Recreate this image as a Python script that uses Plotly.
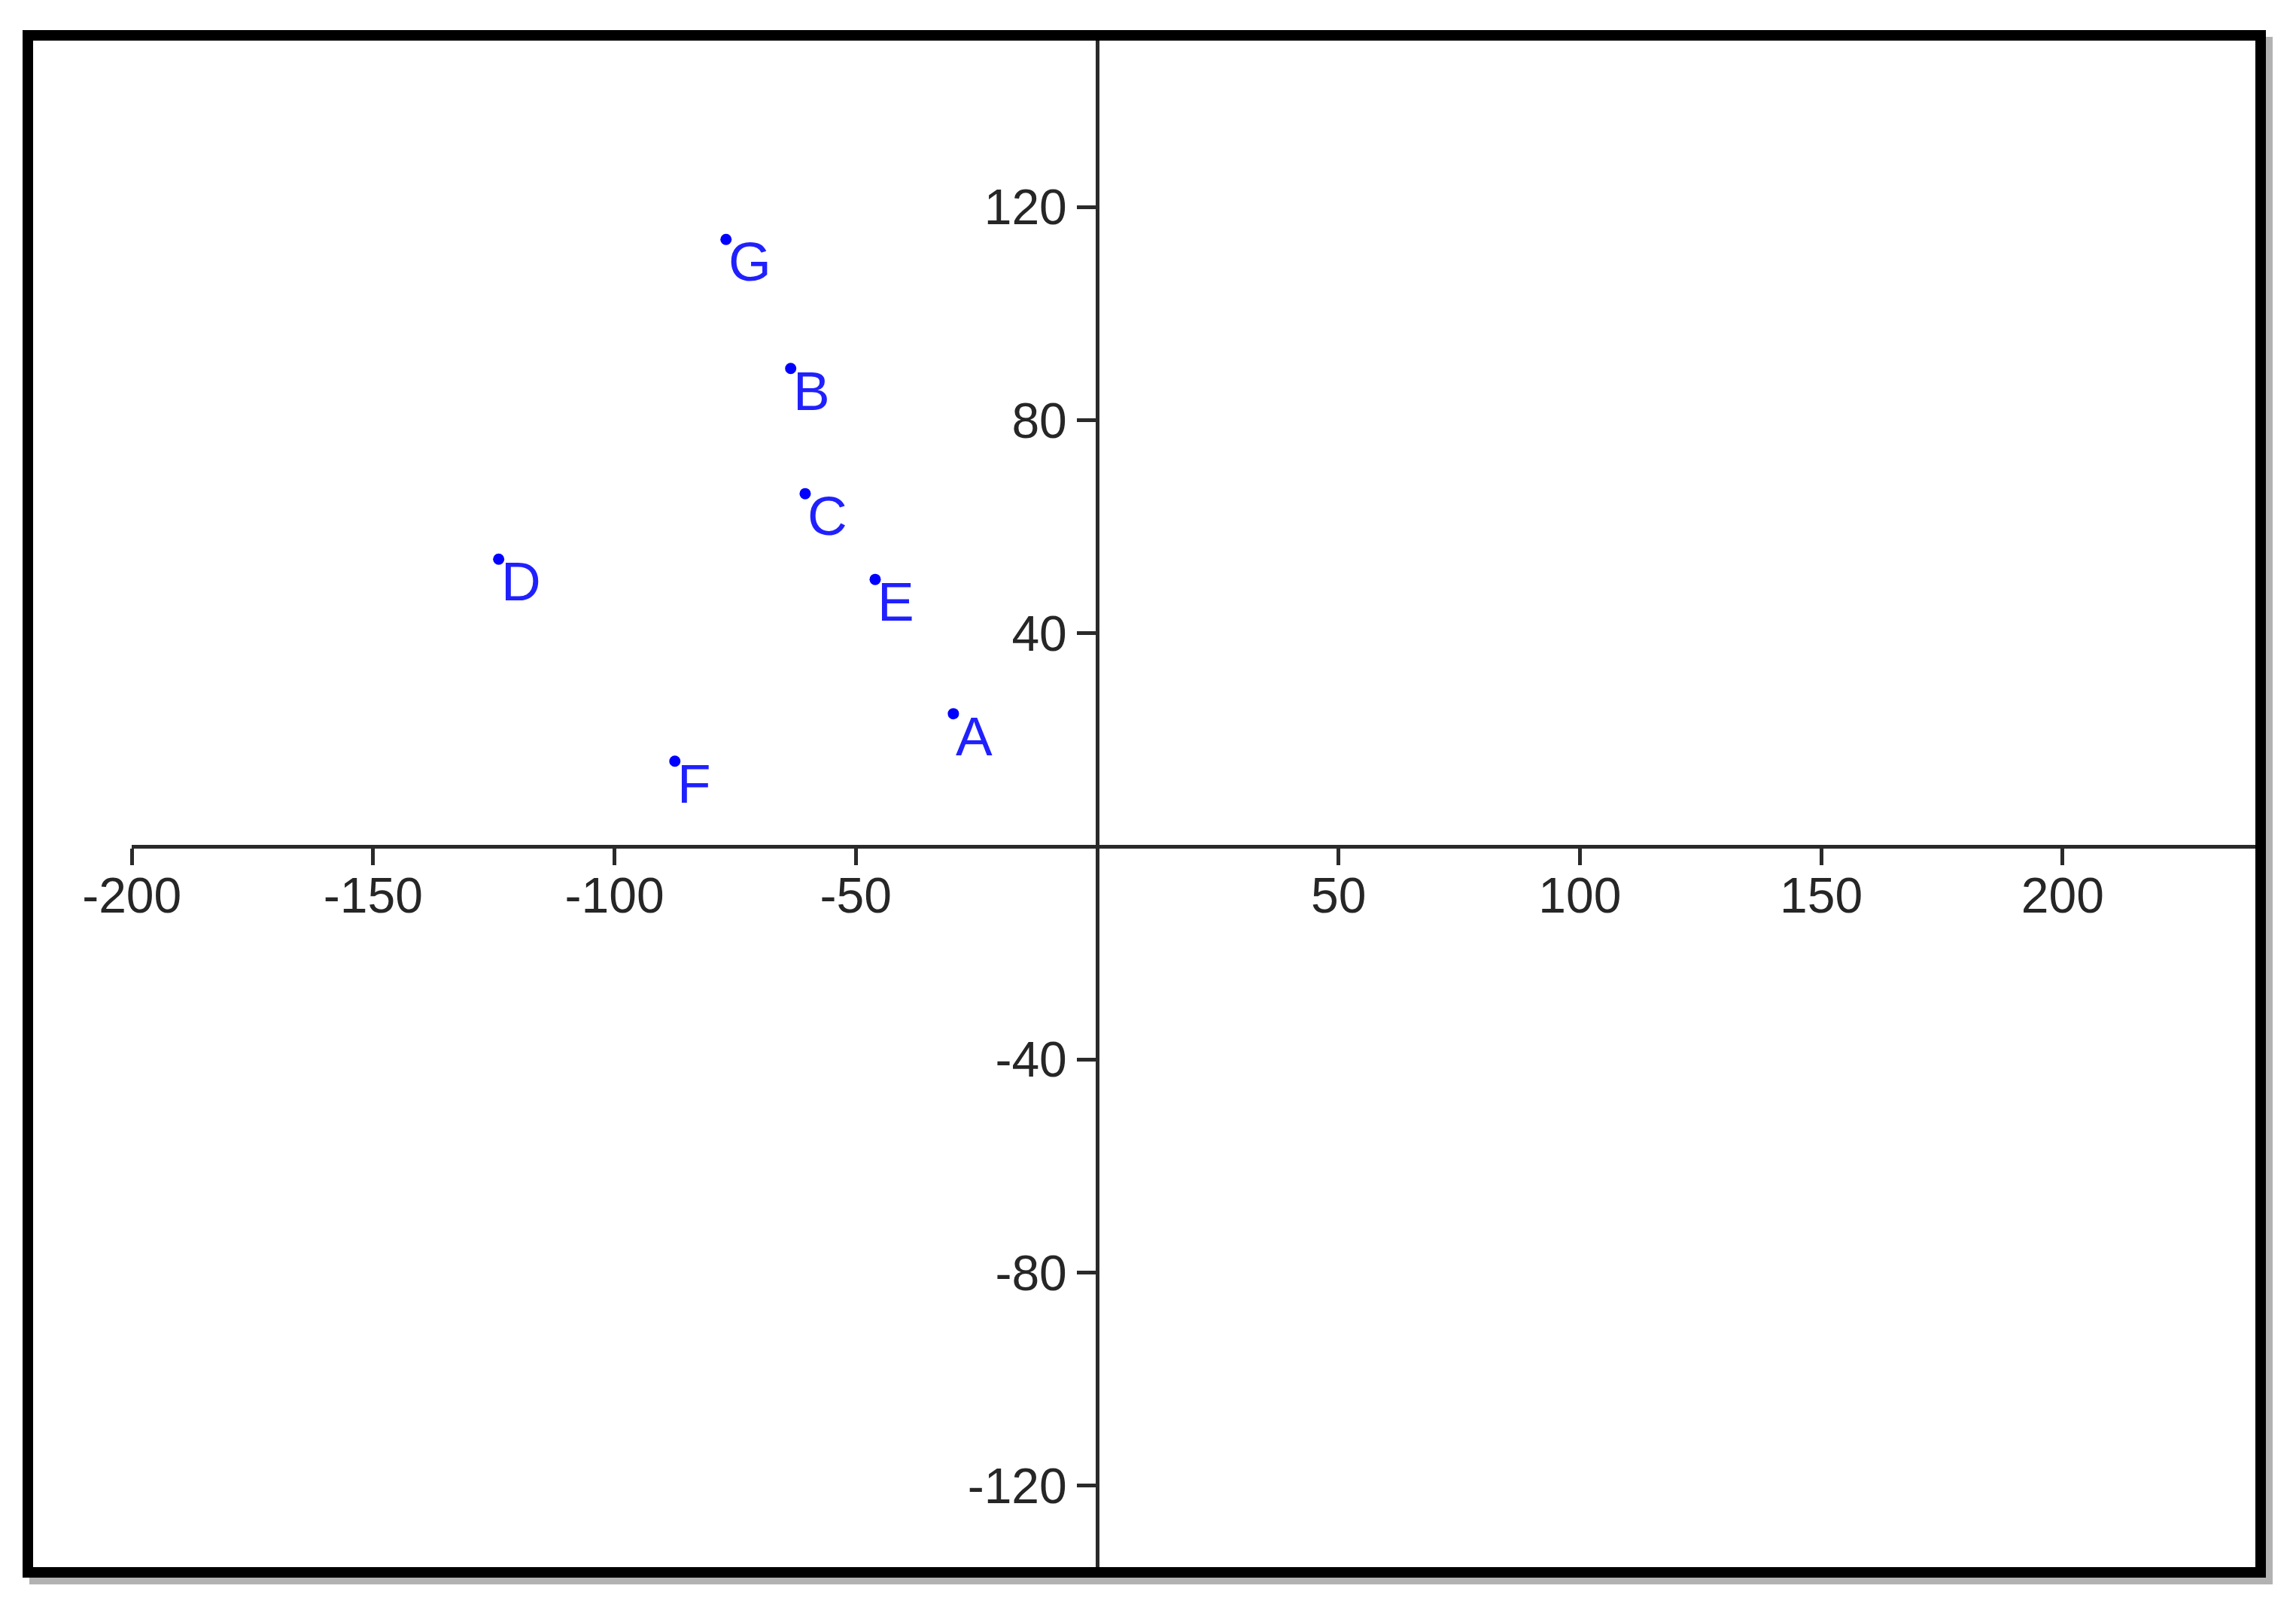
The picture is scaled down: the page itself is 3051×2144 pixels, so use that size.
import plotly.graph_objects as go

# ── Data ─────────────────────────────────────────────────────────────────────
labels = ["A", "B", "C", "D", "E", "F", "G"]
x_vals = [-29.8, -63.5, -60.5, -124.0, -46.0, -87.5, -76.9]
y_vals = [24.9, 89.7, 66.2, 53.9, 50.1, 16.0, 113.9]

x_ticks = [-200, -150, -100, -50, 50, 100, 150, 200]
x_ticktext = ["-200", "-150", "-100", "-50", "50", "100", "150", "200"]
y_ticks = [-120, -80, -40, 40, 80, 120]
y_ticktext = ["-120", "-80", "-40", "40", "80", "120"]

# ── Canvas calibration (pixels, page coords; body margin offsets the div) ────
OFF = 8
W, H = 3051 - OFF, 2144 - OFF
X0_PX, Y0_PX = 1458 - OFF, 1125 - OFF      # where the two axes cross
PX_PER_X = 320.7 / 50
PX_PER_Y = 283.3 / 40
FRAME = dict(l=30 - OFF, t=40 - OFF, r=3011 - OFF, b=2097 - OFF, w=14)


def to_x(px):
    return (px - X0_PX) / PX_PER_X


def to_y(py):
    return (Y0_PX - py) / PX_PER_Y


AXIS_COLOR = "#2a2a2a"
FONT = "Arial, Liberation Sans, sans-serif"
TICK_FONT = dict(family=FONT, size=66, color="#262626")
BLUE = "#0000ff"

fig = go.Figure()

fig.add_trace(go.Scatter(
    x=x_vals, y=y_vals,
    mode="markers",
    marker=dict(color=BLUE, size=15),
    showlegend=False, hoverinfo="skip",
))

# point labels, lower-right of each dot
for lab, xv, yv in zip(labels, x_vals, y_vals):
    fig.add_annotation(
        x=xv, y=yv, text=lab, showarrow=False,
        xanchor="left", yanchor="top", xshift=1, yshift=13,
        font=dict(family=FONT, size=73, color="#2020ff"),
    )

# invisible trace so the crossing axes get drawn
fig.add_trace(go.Scatter(
    x=x_ticks[:1], y=y_ticks[:1], xaxis="x2", yaxis="y2",
    mode="markers", marker=dict(opacity=0),
    showlegend=False, hoverinfo="skip",
))

inner_r = FRAME["r"] - FRAME["w"]
inner_t = FRAME["t"] + FRAME["w"]
inner_b = FRAME["b"] - FRAME["w"]

# ── Shadow + frame ──
half = FRAME["w"] / 2
fig.add_shape(type="rect", xref="paper", yref="paper",
              x0=(FRAME["l"] + half + 9) / W, x1=(FRAME["r"] - half + 9) / W,
              y0=1 - (FRAME["b"] - half + 9) / H, y1=1 - (FRAME["t"] + half + 9) / H,
              line=dict(color="rgba(0,0,0,0.3)", width=FRAME["w"]), layer="below")
fig.add_shape(type="rect", xref="paper", yref="paper",
              x0=(FRAME["l"] + half) / W, x1=(FRAME["r"] - half) / W,
              y0=1 - (FRAME["b"] - half) / H, y1=1 - (FRAME["t"] + half) / H,
              line=dict(color="black", width=FRAME["w"]), fillcolor="white", layer="below")

fig.update_layout(
    width=W, height=H,
    margin=dict(l=0, r=0, t=0, b=0, autoexpand=False),
    paper_bgcolor="white", plot_bgcolor="rgba(0,0,0,0)",
    xaxis=dict(range=[to_x(0), to_x(W)], domain=[0, 1], visible=False,
               fixedrange=True, automargin=False),
    yaxis=dict(range=[to_y(H), to_y(0)], domain=[0, 1], visible=False,
               fixedrange=True, automargin=False),
    xaxis2=dict(
        anchor="free", position=1 - Y0_PX / H,
        domain=[(X0_PX - 200 * PX_PER_X) / W, inner_r / W],
        range=[-200, to_x(inner_r)],
        tickvals=x_ticks, ticktext=x_ticktext,
        ticks="outside", ticklen=22, tickwidth=5, tickcolor=AXIS_COLOR,
        ticklabelstandoff=-16,
        showline=True, linewidth=5, linecolor=AXIS_COLOR,
        showgrid=False, zeroline=False, tickfont=TICK_FONT,
        fixedrange=True, automargin=False,
    ),
    yaxis2=dict(
        anchor="free", position=X0_PX / W, side="left",
        domain=[1 - inner_b / H, 1 - inner_t / H],
        range=[to_y(inner_b), to_y(inner_t)],
        tickvals=y_ticks, ticktext=y_ticktext,
        ticks="outside", ticklen=25, tickwidth=5, tickcolor=AXIS_COLOR,
        showline=True, linewidth=5, linecolor=AXIS_COLOR,
        showgrid=False, zeroline=False, tickfont=TICK_FONT,
        fixedrange=True, automargin=False,
    ),
)

fig.write_html("out.html")
